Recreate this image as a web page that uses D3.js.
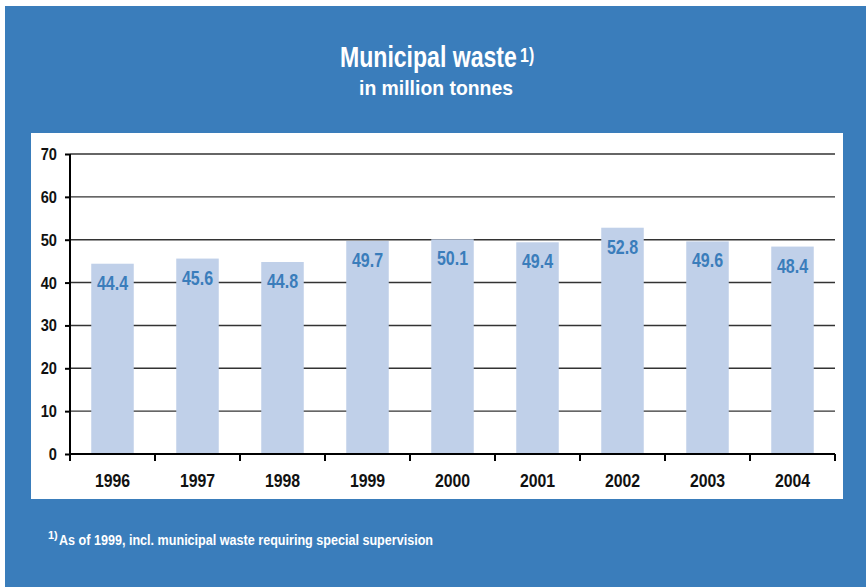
<!DOCTYPE html>
<html><head><meta charset="utf-8">
<script src="https://cdn.jsdelivr.net/npm/d3@7"></script>
<style>
html,body{margin:0;padding:0;background:#fff;}
svg text{font-family:"Liberation Sans","Arial",sans-serif;font-weight:bold;}
</style>
</head><body>
<script>
const years = ["1996","1997","1998","1999","2000","2001","2002","2003","2004"];
const values = [44.4, 45.6, 44.8, 49.7, 50.1, 49.4, 52.8, 49.6, 48.4];
const yTicks = [0,10,20,30,40,50,60,70];
const titleText = "Municipal waste";
const titleSup = "1)";
const subtitleText = "in million tonnes";
const footnoteSup = "1)";
const footnoteText = "As of 1999, incl. municipal waste requiring special supervision";

(function(){
const W = 866, H = 587;
const svg = d3.select("body").append("svg").attr("width", W).attr("height", H);
svg.append("rect").attr("x",5).attr("y",6).attr("width",W-5).attr("height",H-6).attr("fill","#3a7dbb");
svg.append("rect").attr("x",31).attr("y",133).attr("width",812).attr("height",366).attr("fill","#fff");

function fitW(sel, w){ sel.attr("textLength", w).attr("lengthAdjust","spacingAndGlyphs"); }
function condense(sel, f){
  sel.each(function(){ const n=this; const L=n.getComputedTextLength();
    d3.select(n).attr("textLength", L*f).attr("lengthAdjust","spacingAndGlyphs"); });
}

const tg = svg.append("g");
const tt = tg.append("text").attr("fill","#fff").attr("font-size",29);
const tMain = tt.append("tspan").text(titleText);
tt.append("tspan").attr("font-size",20).attr("dx",4).attr("dy",-5).text(titleSup);
const mainW = tMain.node().getComputedTextLength();
const sx = 177 / mainW;
tg.attr("transform",`translate(340,67) scale(${sx},1)`);

svg.append("text").attr("x",359).attr("y",95).attr("fill","#fff").attr("font-size",21)
  .text(subtitleText).call(fitW,154);

const pL = 70, pR = 835, pT = 154, pB = 454;
const x = d3.scaleBand().domain(years).range([pL,pR]).paddingInner(0.5).paddingOuter(0.25);
const y = d3.scaleLinear().domain([0,70]).range([pB,pT]);

const g = svg.append("g");
g.selectAll("line.grid").data(yTicks.filter(d=>d>0)).join("line")
  .attr("x1",pL).attr("x2",pR).attr("y1",d=>y(d)).attr("y2",d=>y(d))
  .attr("stroke","#333").attr("stroke-width",1.4);

g.selectAll("rect.bar").data(values).join("rect")
  .attr("x",(d,i)=>x(years[i])).attr("width",x.bandwidth())
  .attr("y",d=>y(d)).attr("height",d=>pB-y(d)).attr("fill","#c0d0e9");

g.selectAll("text.val").data(values).join("text")
  .attr("x",(d,i)=>x(years[i])+x.bandwidth()/2).attr("y",d=>y(d)+26)
  .attr("text-anchor","middle").attr("fill","#3a7dbb").attr("font-size",19.5)
  .text(d=>d.toFixed(1)).call(condense,0.82);

const yAxis = d3.axisLeft(y).tickValues(yTicks).tickSize(5).tickPadding(8);
const ya = svg.append("g").attr("transform",`translate(${pL},0)`).call(yAxis);
ya.select(".domain").attr("stroke","#000").attr("stroke-width",2).attr("d",`M0,${pT}V${pB}`);
ya.selectAll(".tick line").attr("stroke","#000").attr("stroke-width",2);
ya.selectAll(".tick text").attr("font-size",17).attr("fill","#111")
  .style("font-family",'"Liberation Sans",Arial,sans-serif').style("font-weight","bold")
  .call(condense,0.86);

const xa = svg.append("g").attr("transform",`translate(0,${pB})`);
xa.append("line").attr("x1",pL).attr("x2",pR).attr("stroke","#000").attr("stroke-width",2);
const bounds = d3.range(years.length+1).map(i=>pL + i*(pR-pL)/years.length);
xa.selectAll("line.tk").data(bounds).join("line")
  .attr("x1",d=>d).attr("x2",d=>d).attr("y1",0).attr("y2",7).attr("stroke","#000").attr("stroke-width",2);
xa.selectAll("text.yr").data(years).join("text")
  .attr("x",d=>x(d)+x.bandwidth()/2).attr("y",33).attr("text-anchor","middle")
  .attr("font-size",18).attr("fill","#111").text(d=>d).call(condense,0.88);

const f = svg.append("text").attr("x",48).attr("y",545).attr("fill","#fff");
f.append("tspan").attr("font-size",11).attr("dy",-6).text(footnoteSup);
f.append("tspan").attr("font-size",14).attr("x",59).attr("dy",6).text(footnoteText).call(fitW,374);
})();
</script>
</body></html>
